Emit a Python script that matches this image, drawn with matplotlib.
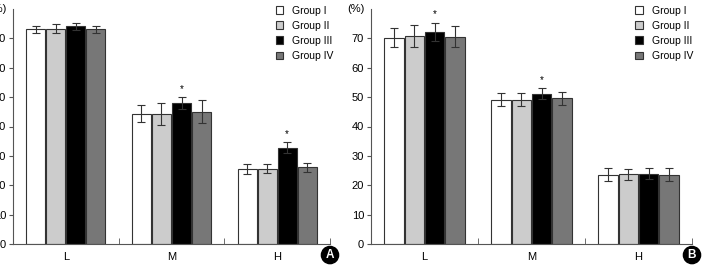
import matplotlib
matplotlib.use("Agg")
import matplotlib.pyplot as plt
import numpy as np

plt.rcParams['font.family'] = ['Liberation Sans', 'DejaVu Sans']

categories = ["L", "M", "H"]
groups = ["Group I", "Group II", "Group III", "Group IV"]
colors = ["#ffffff", "#cccccc", "#000000", "#777777"]

# Panel A
a_vals = {
    "Group I":   [73.1, 44.3, 25.6],
    "Group II":  [73.3, 44.3, 25.6],
    "Group III": [74.1, 48.1, 32.8],
    "Group IV":  [73.1, 45.1, 26.1],
}
a_err = {
    "Group I":   [1.2, 2.9, 1.75],
    "Group II":  [1.6, 3.7, 1.5],
    "Group III": [1.2, 2.0, 1.8],
    "Group IV":  [1.2, 4.0, 1.6],
}
a_star = [False, True, True]

# Panel B
b_vals = {
    "Group I":   [70.2, 49.1, 23.6],
    "Group II":  [70.8, 49.1, 23.7],
    "Group III": [72.3, 51.2, 24.0],
    "Group IV":  [70.5, 49.6, 23.6],
}
b_err = {
    "Group I":   [3.2, 2.2, 2.3],
    "Group II":  [3.6, 2.2, 1.8],
    "Group III": [3.1, 1.9, 1.8],
    "Group IV":  [3.6, 2.3, 2.2],
}
b_star = [True, True, False]

yticks = [0, 10, 20, 30, 40, 50, 60, 70]

fig = plt.figure(figsize=(7.05, 2.66), dpi=100)
axA = fig.add_axes([13/705, 1-244/266, 317/705, 235/266])
axB = fig.add_axes([371/705, 1-244/266, 321/705, 235/266])

def draw(ax, vals, errs, stars, letter, leg_x):
    x = np.arange(len(categories)) + 0.5
    w = 0.18
    offs = (np.arange(4) - 1.5) * (w + 0.01)
    for i, g in enumerate(groups):
        ax.bar(x + offs[i], vals[g], width=w, color=colors[i], edgecolor="#333333",
               linewidth=0.8, label=g, zorder=2)
        ax.errorbar(x + offs[i], vals[g], yerr=errs[g], fmt="none", ecolor="#333333",
                    elinewidth=0.8, capsize=3, capthick=0.8, zorder=3)
    for j, s in enumerate(stars):
        if s:
            top = vals["Group III"][j] + errs["Group III"][j]
            ax.text(x[j] + offs[2], top + 1.0, "*", ha="center", va="bottom", fontsize=7)
    ax.set_xlim(0, 3)
    ax.set_ylim(0, 80)
    ax.set_yticks(yticks)
    ax.set_yticklabels([str(t) for t in yticks], fontsize=8)
    ax.set_xticks(x)
    ax.set_xticklabels(categories, fontsize=8)
    ax.tick_params(axis="x", length=0, pad=6)
    ax.set_xticks([1, 2, 3], minor=True)
    ax.tick_params(axis="x", which="minor", direction="in", length=4, color="#555555")
    ax.tick_params(axis="y", direction="out", length=3, color="#555555", pad=2)
    for sp in ["top", "right"]:
        ax.spines[sp].set_visible(False)
    for sp in ["left", "bottom"]:
        ax.spines[sp].set_color("#555555")
        ax.spines[sp].set_linewidth(0.8)
    ax.text(-0.02, 1.0, "(%)", transform=ax.transAxes, ha="right", va="center", fontsize=8)
    ax.legend(loc="upper left", bbox_to_anchor=(leg_x/705, 1-5.5/266),
              bbox_transform=fig.transFigure, frameon=False, fontsize=7.5,
              borderpad=0, borderaxespad=0,
              handlelength=0.75, handleheight=0.75, handletextpad=0.85, labelspacing=0.5)
    ax.text(1.0, -0.047, letter, transform=ax.transAxes, ha="center", va="center",
            fontsize=8.5, fontweight="bold", color="white",
            bbox=dict(boxstyle="circle,pad=0.22", fc="black", ec="black"))

draw(axA, a_vals, a_err, a_star, "A", 275.5)
draw(axB, b_vals, b_err, b_star, "B", 635)

fig.savefig("out.png", dpi=100)
